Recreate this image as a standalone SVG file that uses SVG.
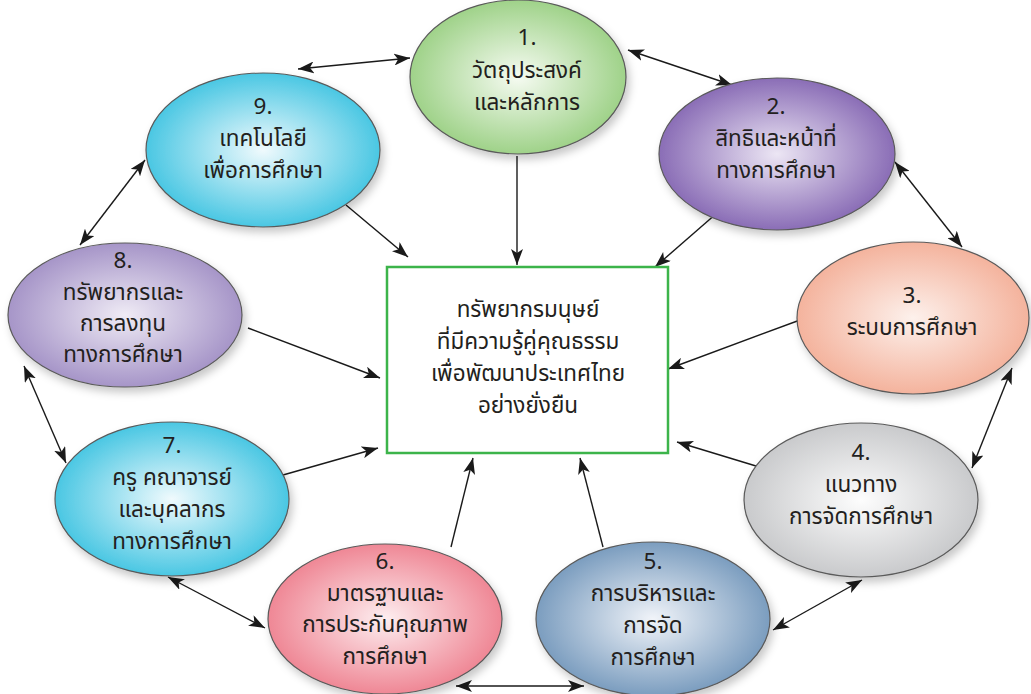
<svg xmlns="http://www.w3.org/2000/svg" width="1031" height="694" viewBox="0 0 1031 694">
<style>
.node ellipse{stroke:#5a5a5a;stroke-width:1.2;filter:url(#sh)}
text{font-family:"Noto Sans Thai","Noto Sans","DejaVu Sans",sans-serif;font-size:22.5px;fill:#231f20;text-anchor:middle}
.conn line{stroke:#1a1a1a;stroke-width:1.4;fill:none}
.dbl{marker-start:url(#ah);marker-end:url(#ah)}
.one{marker-end:url(#ah)}
</style>
<defs>
<filter id="sh" x="-20%" y="-20%" width="140%" height="150%"><feDropShadow dx="3" dy="5" stdDeviation="4" flood-color="#000" flood-opacity="0.22"/></filter>
<marker id="ah" markerUnits="userSpaceOnUse" markerWidth="17" markerHeight="12" refX="16" refY="6" orient="auto-start-reverse"><path d="M0,0 L16,6 L0,12 L4,6 Z" fill="#1a1a1a"/></marker>
<radialGradient id="g1"><stop offset="0" stop-color="#f6fbf2"/><stop offset="1" stop-color="#9fd289"/></radialGradient>
<radialGradient id="g2"><stop offset="0" stop-color="#ece6f4"/><stop offset="1" stop-color="#8a6db6"/></radialGradient>
<radialGradient id="g3"><stop offset="0" stop-color="#fdf1ec"/><stop offset="1" stop-color="#f4b39d"/></radialGradient>
<radialGradient id="g4"><stop offset="0" stop-color="#fdfdfd"/><stop offset="1" stop-color="#c9cacc"/></radialGradient>
<radialGradient id="g5"><stop offset="0" stop-color="#f1f4f9"/><stop offset="1" stop-color="#7b9dbf"/></radialGradient>
<radialGradient id="g6"><stop offset="0" stop-color="#fdeef0"/><stop offset="1" stop-color="#ef8795"/></radialGradient>
<radialGradient id="g7"><stop offset="0" stop-color="#f0fafd"/><stop offset="1" stop-color="#4ac7e3"/></radialGradient>
<radialGradient id="g8"><stop offset="0" stop-color="#efebf5"/><stop offset="1" stop-color="#a695c8"/></radialGradient>
</defs>
<rect width="1031" height="694" fill="#fff"/>
<g class="conn">
<line class="dbl" x1="298" y1="69" x2="410" y2="58"/>
<line class="dbl" x1="628" y1="50" x2="732" y2="85"/>
<line class="dbl" x1="895" y1="162" x2="962" y2="247"/>
<line class="dbl" x1="1012" y1="368" x2="972" y2="468"/>
<line class="dbl" x1="862" y1="580" x2="773" y2="630"/>
<line class="dbl" x1="456" y1="686" x2="584" y2="686"/>
<line class="dbl" x1="265" y1="628" x2="168" y2="577"/>
<line class="dbl" x1="66" y1="463" x2="24" y2="366"/>
<line class="dbl" x1="80" y1="245" x2="145" y2="160"/>
<line class="one" x1="517" y1="156" x2="517" y2="265"/>
<line class="one" x1="717" y1="213" x2="655" y2="267"/>
<line class="one" x1="800" y1="320" x2="668" y2="369"/>
<line class="one" x1="756" y1="466" x2="677" y2="442"/>
<line class="one" x1="603" y1="547" x2="580" y2="458"/>
<line class="one" x1="451" y1="547" x2="473" y2="458"/>
<line class="one" x1="283" y1="475" x2="378" y2="448"/>
<line class="one" x1="248" y1="328" x2="380" y2="378"/>
<line class="one" x1="346" y1="205" x2="408" y2="257"/>
</g>
<g id="center">
<rect x="387" y="267" width="281" height="186" fill="#fff" stroke="#3cb44a" stroke-width="2.5"/>
<text x="528" y="317">ทรัพยากรมนุษย์</text>
<text x="528" y="349">ที่มีความรู้คู่คุณธรรม</text>
<text x="528" y="381">เพื่อพัฒนาประเทศไทย</text>
<text x="528" y="413">อย่างยั่งยืน</text>
</g>
<g id="n1" class="node">
<ellipse cx="518" cy="77" rx="108" ry="77" fill="url(#g1)"/>
<text x="527" y="45">1.</text>
<text x="527" y="78">วัตถุประสงค์</text>
<text x="527" y="110">และหลักการ</text>
</g>
<g id="n2" class="node">
<ellipse cx="777" cy="154" rx="118" ry="76" fill="url(#g2)"/>
<text x="776" y="114">2.</text>
<text x="776" y="146">สิทธิและหน้าที่</text>
<text x="776" y="178">ทางการศึกษา</text>
</g>
<g id="n3" class="node">
<ellipse cx="913" cy="318" rx="116" ry="76" fill="url(#g3)"/>
<text x="912" y="303">3.</text>
<text x="912" y="335">ระบบการศึกษา</text>
</g>
<g id="n4" class="node">
<ellipse cx="861" cy="500" rx="117" ry="77" fill="url(#g4)"/>
<text x="861" y="460">4.</text>
<text x="861" y="492">แนวทาง</text>
<text x="861" y="524">การจัดการศึกษา</text>
</g>
<g id="n5" class="node">
<ellipse cx="653" cy="619" rx="117" ry="77" fill="url(#g5)"/>
<text x="653" y="569">5.</text>
<text x="653" y="601">การบริหารและ</text>
<text x="653" y="633">การจัด</text>
<text x="653" y="665">การศึกษา</text>
</g>
<g id="n6" class="node">
<ellipse cx="385" cy="619" rx="117" ry="75" fill="url(#g6)"/>
<text x="385" y="569">6.</text>
<text x="385" y="601">มาตรฐานและ</text>
<text x="385" y="632">การประกันคุณภาพ</text>
<text x="385" y="664">การศึกษา</text>
</g>
<g id="n7" class="node">
<ellipse cx="172" cy="499" rx="117" ry="77" fill="url(#g7)"/>
<text x="172" y="453">7.</text>
<text x="172" y="485">ครู คณาจารย์</text>
<text x="172" y="517">และบุคลากร</text>
<text x="172" y="549">ทางการศึกษา</text>
</g>
<g id="n8" class="node">
<ellipse cx="125" cy="315" rx="117" ry="72" fill="url(#g8)"/>
<text x="123" y="268">8.</text>
<text x="123" y="300">ทรัพยากรและ</text>
<text x="123" y="331">การลงทุน</text>
<text x="123" y="362">ทางการศึกษา</text>
</g>
<g id="n9" class="node">
<ellipse cx="263" cy="150" rx="117" ry="77" fill="url(#g7)"/>
<text x="263" y="114">9.</text>
<text x="263" y="146">เทคโนโลยี</text>
<text x="263" y="178">เพื่อการศึกษา</text>
</g>
</svg>
